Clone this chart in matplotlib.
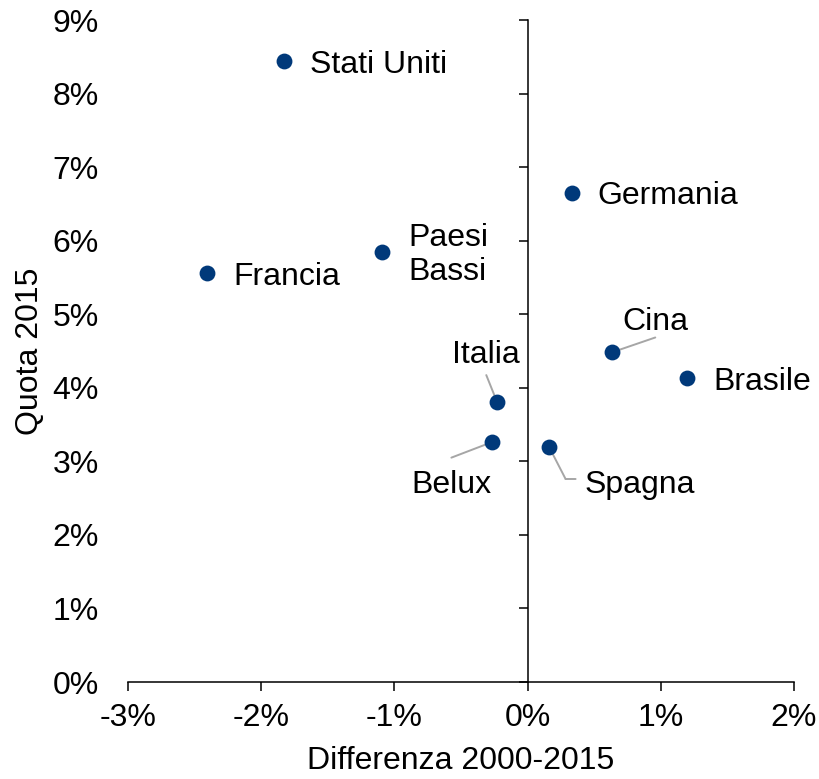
import matplotlib.pyplot as plt
import matplotlib.transforms as mtransforms
from matplotlib.ticker import FuncFormatter

# Data (percent)
countries = ['Stati Uniti', 'Germania', 'Paesi\nBassi', 'Francia', 'Cina',
             'Brasile', 'Italia', 'Belux', 'Spagna']
diff_2000_2015 = [-1.83, 0.33, -1.09, -2.41, 0.63, 1.20, -0.23, -0.27, 0.16]
quota_2015 = [8.44, 6.65, 5.85, 5.56, 4.48, 4.13, 3.81, 3.26, 3.20]

# label placement in points from the dot: (dx, dy, ha, leader line vertices)
label_pos = {
    'Stati Uniti': (18.5, -2.5, 'left', None),
    'Germania': (18.7, -2.5, 'left', None),
    'Paesi\nBassi': (19, -2.5, 'left', None),
    'Francia': (19, -2.5, 'left', None),
    'Brasile': (19, -2.5, 'left', None),
    'Cina': (31.5, 21.8, 'center', [(31.5, 10.8)]),
    'Italia': (-7.7, 34, 'center', [(-7.7, 19.2)]),
    'Belux': (-28.8, -31, 'center', [(-29, -11.1)]),
    'Spagna': (25.5, -27.5, 'left', [(12, -23.3), (19.2, -23.3)]),
}

plt.rcParams['font.family'] = ['Liberation Sans', 'DejaVu Sans']
plt.rcParams['font.size'] = 23

fig = plt.figure(figsize=(8.19, 7.79), dpi=100)
ax = fig.add_axes([0.1563, 0.1245, 0.8132, 0.8498])

dot_color = '#00397a'
line_color = '#a6a6a6'


def offset(dx, dy):
    return mtransforms.offset_copy(ax.transData, fig=fig, x=dx, y=dy, units='points')


# Leader lines
for x, y, name in zip(diff_2000_2015, quota_2015, countries):
    leader = label_pos[name][3]
    if not leader:
        continue
    pts = [(0, 0)] + leader
    for (x0, y0), (x1, y1) in zip(pts[:-1], pts[1:]):
        ax.annotate('', xy=(x, y), xycoords=offset(x0, y0),
                    xytext=(x, y), textcoords=offset(x1, y1),
                    arrowprops=dict(arrowstyle='-', color=line_color, lw=1.4,
                                    shrinkA=0, shrinkB=0))

ax.scatter(diff_2000_2015, quota_2015, s=130, color=dot_color, zorder=3, linewidths=0)

for x, y, name in zip(diff_2000_2015, quota_2015, countries):
    dx, dy, ha, leader = label_pos[name]
    ax.annotate(name, xy=(x, y), xytext=(dx, dy), textcoords='offset points',
                ha=ha, va='center', fontsize=23, linespacing=1.2)

ax.set_xlim(-3, 2)
ax.set_ylim(0, 9)
ax.set_xticks(range(-3, 3))
ax.set_yticks(range(0, 10))
pct = FuncFormatter(lambda v, p: '{:.0f}%'.format(v))
ax.xaxis.set_major_formatter(pct)
ax.yaxis.set_major_formatter(pct)

ax.spines['left'].set_position(('data', 0))
ax.spines['right'].set_visible(False)
ax.spines['top'].set_visible(False)
for s in ('left', 'bottom'):
    ax.spines[s].set_linewidth(1.1)

ax.tick_params(axis='y', direction='out', length=6.3, width=1.1, pad=302.5, labelsize=23)
ax.tick_params(axis='x', direction='out', length=6.3, width=1.1, pad=9, labelsize=23)

ax.set_xlabel('Differenza 2000-2015', fontsize=23, labelpad=9)
ax.set_ylabel('Quota 2015', fontsize=23)
ax.yaxis.set_label_coords(-0.125, 0.5, transform=ax.transAxes)

fig.savefig('out.png', dpi=100)
